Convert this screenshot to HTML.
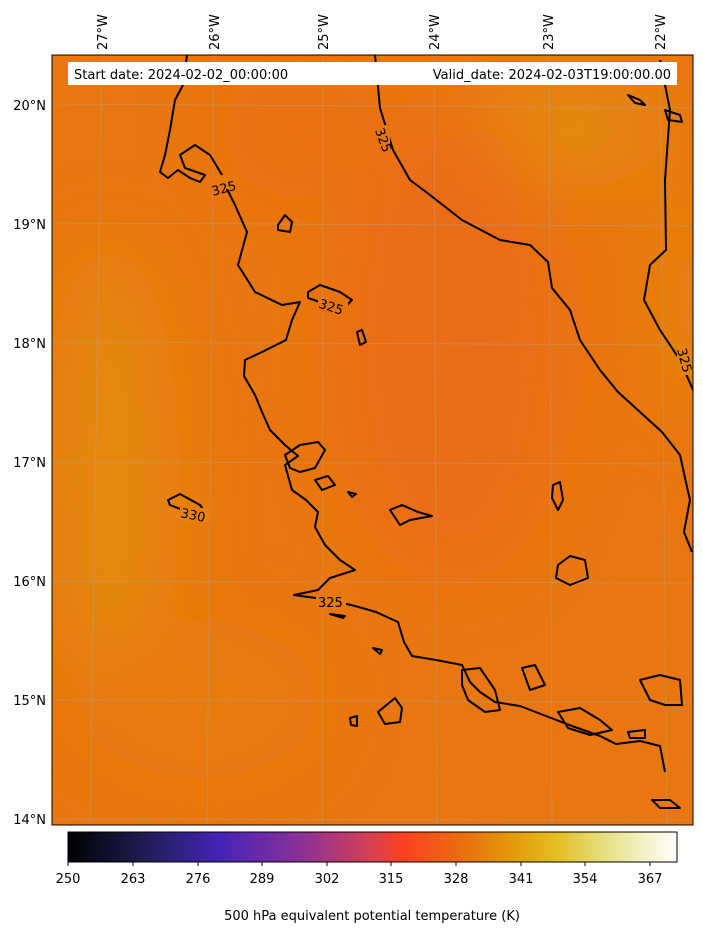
<!DOCTYPE html>
<html><head><style>
body{margin:0;background:#fff;width:703px;height:935px;overflow:hidden;font-family:"Liberation Sans","DejaVu Sans",sans-serif}
</style></head><body>
<svg width="703" height="935" viewBox="0 0 703 935" xmlns="http://www.w3.org/2000/svg" font-family="DejaVu Sans, Liberation Sans, sans-serif">
<defs>
<clipPath id="c"><rect x="52" y="55" width="641" height="770"/></clipPath>
<filter id="b" filterUnits="userSpaceOnUse" x="-200" y="-200" width="1200" height="1300"><feGaussianBlur stdDeviation="35"/></filter>
<linearGradient id="cb" x1="0" x2="1">
<stop offset="0" stop-color="#000000"/>
<stop offset="0.12" stop-color="#1e1c50"/>
<stop offset="0.25" stop-color="#4424b8"/>
<stop offset="0.38" stop-color="#8a3098"/>
<stop offset="0.5" stop-color="#d84050"/>
<stop offset="0.55" stop-color="#fc4020"/>
<stop offset="0.64" stop-color="#ea6a10"/>
<stop offset="0.73" stop-color="#e39a08"/>
<stop offset="0.8" stop-color="#e5bd20"/>
<stop offset="0.88" stop-color="#e5df80"/>
<stop offset="1" stop-color="#ffffff"/>
</linearGradient>
</defs>
<g clip-path="url(#c)">
<rect x="52" y="55" width="641" height="770" fill="#e9760e"/>
<g filter="url(#b)">
<ellipse cx="110" cy="480" rx="70" ry="240" fill="#e5870a"/>
<ellipse cx="560" cy="130" rx="110" ry="60" fill="#e5880a"/>
<ellipse cx="685" cy="300" rx="25" ry="120" fill="#e5860a"/>
<ellipse cx="450" cy="340" rx="110" ry="230" fill="#eb6c12"/>
<ellipse cx="300" cy="130" rx="80" ry="70" fill="#eb6f10"/>
<ellipse cx="200" cy="700" rx="120" ry="80" fill="#e87c0c"/>
</g>
<g stroke="#b0a090" stroke-width="0.8" opacity="0.6" fill="none">
<line x1="102" y1="55" x2="90" y2="825"/><line x1="214" y1="55" x2="207" y2="825"/>
<line x1="323" y1="55" x2="322" y2="825"/><line x1="434" y1="55" x2="437" y2="825"/>
<line x1="549" y1="55" x2="552" y2="825"/><line x1="660" y1="55" x2="667" y2="825"/>
<line x1="52" y1="104" x2="693" y2="108"/><line x1="52" y1="223" x2="693" y2="226"/>
<line x1="52" y1="342" x2="693" y2="345"/><line x1="52" y1="462" x2="693" y2="464"/>
<line x1="52" y1="581" x2="693" y2="583"/><line x1="52" y1="700" x2="693" y2="702"/>
<line x1="52" y1="819" x2="693" y2="820"/>
</g>
<g stroke="#000" stroke-width="2" fill="none" stroke-linejoin="round">
<polyline points="187,55 183,85 175,100 170,130 165,155 160,172 168,178 178,170 190,178 200,182 205,175 185,168 180,155 195,145 210,155 222,175 225,185 235,205 247,232 238,265 255,292 282,305 300,302 292,320 286,340 262,352 245,360 244,376 255,395 262,412 270,430 285,445 298,456 285,465 292,490 306,500 318,512 315,527 325,545 340,560 355,570 330,578 318,590 294,595 330,600 355,606 376,612 398,622 404,642 412,656 436,660 462,665 470,682 480,692 495,702 520,706 546,716 572,726 600,736 616,744 640,741 660,746 665,772"/>
<polyline points="375,55 380,108 393,150 410,180 430,195 462,220 500,240 530,245 548,262 552,288 570,310 580,340 600,370 618,392 640,412 662,432 680,455 685,478 690,500 684,532 692,552"/>
<polyline points="660,60 670,110 665,180 666,250 650,265 644,300 660,330 680,360 693,390"/>
<path d="M168,500 L180,494 200,505 207,515 200,520 188,512 170,505 Z"/>
<path d="M278,225 L285,215 292,222 290,232 278,230 Z"/>
<path d="M308,292 L320,285 340,292 352,300 342,310 320,302 308,298 Z"/>
<path d="M357,332 L362,330 366,342 360,345 Z"/>
<path d="M285,455 L300,445 318,442 325,450 315,468 300,472 290,468 Z"/>
<path d="M315,480 L328,476 335,485 322,490 Z"/>
<path d="M390,510 L402,505 418,512 432,516 410,520 400,525 Z"/>
<path d="M553,485 L560,482 563,500 558,510 552,498 Z"/>
<path d="M558,565 L570,556 585,560 588,578 570,585 556,578 Z"/>
<path d="M462,670 L480,668 495,690 500,710 485,712 468,700 462,685 Z"/>
<path d="M522,668 L535,665 545,685 530,690 Z"/>
<path d="M378,712 L395,698 402,708 400,722 385,724 Z"/>
<path d="M558,712 L580,708 600,720 612,730 590,735 568,728 Z"/>
<path d="M628,732 L645,730 645,738 630,738 Z"/>
<path d="M640,680 L660,675 680,680 682,705 665,705 650,700 Z"/>
<path d="M628,95 L640,100 645,105 635,103 Z"/>
<path d="M665,110 L680,115 682,122 668,120 Z"/>
<path d="M652,800 L670,800 680,808 660,808 Z"/>
<path d="M373,648 L382,650 380,654 Z"/>
<path d="M350,718 L357,716 357,726 351,725 Z"/>
<path d="M330,614 L345,616 343,618 Z"/>
<path d="M348,492 L356,494 352,497 Z"/>
</g>
<g font-size="13" fill="#000">
<rect x="207" y="175" width="32" height="14" fill="#e9760e"/>
<text x="211" y="193" transform="rotate(-15 223 187)">325</text>
<rect x="318" y="299" width="30" height="14" fill="#e9740e"/>
<text x="319" y="312" transform="rotate(18 333 306)">325</text>
<rect x="180" y="508" width="30" height="14" fill="#e8800c"/>
<text x="181" y="520" transform="rotate(12 195 514)">330</text>
<rect x="316" y="594" width="30" height="14" fill="#e9780e"/>
<text x="318" y="607">325</text>
<rect x="372" y="125" width="18" height="28" fill="#eb7210"/>
<text x="372" y="142" transform="rotate(70 382 138)">325</text>
<rect x="677" y="345" width="16" height="30" fill="#e7800c"/>
<text x="672" y="364" transform="rotate(75 684 360)">325</text>
</g>
</g>
<rect x="52" y="55" width="641" height="770" fill="none" stroke="#000" stroke-width="1"/>
<rect x="68" y="62" width="609" height="23" fill="#fff"/>
<text x="74" y="79" font-size="13">Start date: 2024-02-02_00:00:00</text>
<text x="671" y="79" font-size="13" text-anchor="end">Valid_date: 2024-02-03T19:00:00.00</text>
<g font-size="13" text-anchor="end">
<text x="46" y="110">20°N</text><text x="46" y="229">19°N</text><text x="46" y="348">18°N</text>
<text x="46" y="467">17°N</text><text x="46" y="586">16°N</text><text x="46" y="705">15°N</text><text x="46" y="824">14°N</text>
</g>
<g font-size="13">
<text transform="translate(107,50) rotate(-90)">27°W</text>
<text transform="translate(219,50) rotate(-90)">26°W</text>
<text transform="translate(328,50) rotate(-90)">25°W</text>
<text transform="translate(439,50) rotate(-90)">24°W</text>
<text transform="translate(553,50) rotate(-90)">23°W</text>
<text transform="translate(665,50) rotate(-90)">22°W</text>
</g>
<rect x="68" y="832" width="609" height="30" fill="url(#cb)" stroke="#000" stroke-width="1"/>
<g font-size="13" text-anchor="middle">
<g stroke="#000"><line x1="68" y1="862" x2="68" y2="866"/><line x1="133" y1="862" x2="133" y2="866"/><line x1="198" y1="862" x2="198" y2="866"/><line x1="262" y1="862" x2="262" y2="866"/><line x1="327" y1="862" x2="327" y2="866"/><line x1="391" y1="862" x2="391" y2="866"/><line x1="456" y1="862" x2="456" y2="866"/><line x1="521" y1="862" x2="521" y2="866"/><line x1="585" y1="862" x2="585" y2="866"/><line x1="650" y1="862" x2="650" y2="866"/></g>
<text x="68" y="883">250</text><text x="133" y="883">263</text><text x="198" y="883">276</text><text x="262" y="883">289</text><text x="327" y="883">302</text><text x="391" y="883">315</text><text x="456" y="883">328</text><text x="521" y="883">341</text><text x="585" y="883">354</text><text x="650" y="883">367</text>
<text x="372" y="920">500 hPa equivalent potential temperature (K)</text>
</g>
</svg>
</body></html>
